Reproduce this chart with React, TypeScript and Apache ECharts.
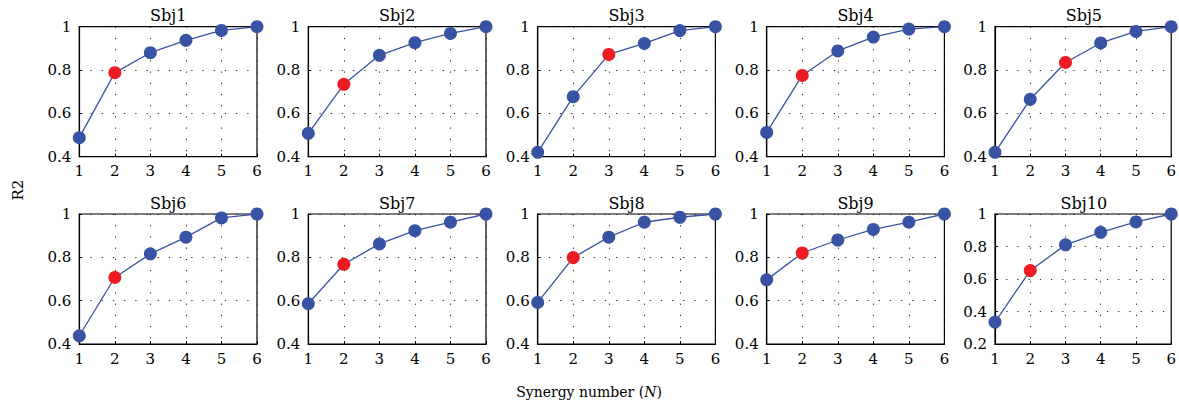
import React, { useEffect, useRef } from "react";
import * as echarts from "echarts";

const synergyNumbers = [1, 2, 3, 4, 5, 6];
const subjects = ["Sbj1", "Sbj2", "Sbj3", "Sbj4", "Sbj5", "Sbj6", "Sbj7", "Sbj8", "Sbj9", "Sbj10"];
const sbj1 = [0.488, 0.788, 0.88, 0.937, 0.983, 1];
const sbj2 = [0.508, 0.734, 0.868, 0.926, 0.969, 1];
const sbj3 = [0.42, 0.677, 0.872, 0.923, 0.982, 1];
const sbj4 = [0.512, 0.775, 0.888, 0.952, 0.989, 1];
const sbj5 = [0.42, 0.665, 0.835, 0.925, 0.978, 1];
const sbj6 = [0.438, 0.707, 0.816, 0.893, 0.982, 1];
const sbj7 = [0.586, 0.768, 0.862, 0.923, 0.962, 1];
const sbj8 = [0.592, 0.799, 0.893, 0.962, 0.985, 1];
const sbj9 = [0.696, 0.82, 0.88, 0.929, 0.962, 1];
const sbj10 = [0.335, 0.652, 0.81, 0.887, 0.951, 1];
const allValues = [sbj1, sbj2, sbj3, sbj4, sbj5, sbj6, sbj7, sbj8, sbj9, sbj10];
// selected synergy number (highlighted in red)
const selectedN = [2, 2, 3, 2, 3, 2, 2, 2, 2, 2];
const yMins = [0.4, 0.4, 0.4, 0.4, 0.4, 0.4, 0.4, 0.4, 0.4, 0.2];

const BLUE = "#3953a4";
const RED = "#ed1c24";
const FONT = "DejaVu Serif";
const FS = 15;

export default function App() {
  const ref = useRef<HTMLDivElement>(null);
  useEffect(() => {
    document.body.style.margin = "0";
    if (!ref.current) return;
    const chart = echarts.init(ref.current, undefined, { renderer: "svg" });
    const lefts = [79.3, 308.3, 537.7, 766.7, 995];
    const tops = [26.7, 214];
    const W = 177.7;
    const H = 130;
    const grids: any[] = [];
    const xAxes: any[] = [];
    const yAxes: any[] = [];
    const series: any[] = [];
    const graphics: any[] = [];
    const dotted = { color: "#222", width: 1, type: [1.2, 10] };
    subjects.forEach((name, i) => {
      const row = Math.floor(i / 5);
      const col = i % 5;
      grids.push({
        left: lefts[col],
        top: tops[row],
        width: W,
        height: H,
        show: true,
        borderColor: "#000",
        borderWidth: 1.2,
        backgroundColor: "transparent",
        containLabel: false,
      });
      xAxes.push({
        type: "value",
        gridIndex: i,
        min: 1,
        max: 6,
        interval: 1,
        axisLine: { show: true, lineStyle: { color: "#000", width: 1.2 } },
        axisTick: { show: true, inside: true, length: 3, lineStyle: { color: "#000" } },
        axisLabel: { color: "#000", fontFamily: FONT, fontSize: FS, margin: 7 },
        splitLine: { show: true, lineStyle: dotted },
      });
      yAxes.push({
        type: "value",
        gridIndex: i,
        min: yMins[i],
        max: 1,
        interval: 0.2,
        axisLine: { show: true, lineStyle: { color: "#000", width: 1.2 } },
        axisTick: { show: true, inside: true, length: 3, lineStyle: { color: "#000" } },
        axisLabel: { color: "#000", fontFamily: FONT, fontSize: FS, margin: 8 },
        splitLine: { show: true, lineStyle: dotted },
      });
      const vals = allValues[i];
      series.push({
        type: "line",
        xAxisIndex: i,
        yAxisIndex: i,
        clip: false,
        symbol: "circle",
        symbolSize: 13,
        lineStyle: { color: BLUE, width: 1.3 },
        itemStyle: { color: BLUE },
        data: synergyNumbers.map((n, k) =>
          n === selectedN[i]
            ? { value: [n, vals[k]], itemStyle: { color: RED } }
            : { value: [n, vals[k]] }
        ),
      });
      graphics.push({
        type: "text",
        x: lefts[col] + W / 2,
        y: tops[row] - 3,
        style: {
          text: name,
          fontFamily: FONT,
          fontSize: 16,
          fill: "#000",
          textAlign: "center",
          textVerticalAlign: "bottom",
        },
      });
    });
    graphics.push({
      type: "text",
      x: 18,
      y: 190,
      rotation: Math.PI / 2,
      style: {
        text: "R2",
        fontFamily: FONT,
        fontSize: FS,
        fill: "#000",
        textAlign: "center",
        textVerticalAlign: "middle",
      },
    });
    graphics.push({
      type: "text",
      x: 589,
      y: 392,
      style: {
        text: "Synergy number ({i|N})",
        fontFamily: FONT,
        fontSize: 14,
        fill: "#000",
        textAlign: "center",
        textVerticalAlign: "middle",
        rich: { i: { fontFamily: FONT, fontSize: 14, fontStyle: "italic", fill: "#000" } },
      },
    });
    chart.setOption({
      animation: false,
      backgroundColor: "#fff",
      grid: grids,
      xAxis: xAxes,
      yAxis: yAxes,
      series,
      graphic: graphics,
    });
    return () => chart.dispose();
  }, []);
  return <div ref={ref} style={{ width: 1179, height: 409 }} />;
}
